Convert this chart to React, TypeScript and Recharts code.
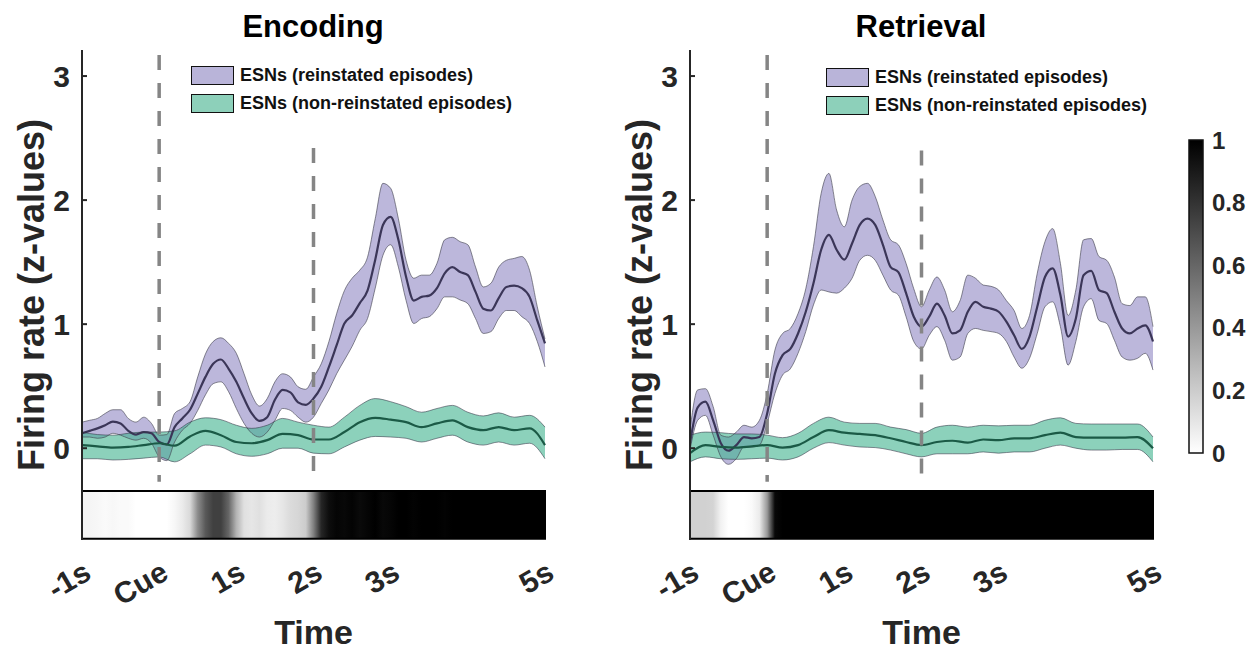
import { ComposedChart, BarChart, Bar, Area, Line, XAxis, YAxis, ReferenceLine, ReferenceArea, Legend, Label } from 'recharts';

const FONT = '"Liberation Sans", Arial, Helvetica, sans-serif';
const INK = '#262626';

// time grid (s relative to cue)
const TIME_FINE = [
  -1, -0.9, -0.8, -0.7, -0.6, -0.5, -0.4, -0.3, -0.2, -0.1,
  0, 0.1, 0.2, 0.3, 0.4, 0.5, 0.6, 0.7, 0.8, 0.9,
  1, 1.1, 1.2, 1.3, 1.4, 1.5, 1.6, 1.7, 1.8, 1.9,
  2, 2.1, 2.2, 2.3, 2.4, 2.5, 2.6, 2.7, 2.8, 2.9,
  3, 3.1, 3.2, 3.3, 3.4, 3.5, 3.6, 3.7, 3.8, 3.9,
  4, 4.1, 4.2, 4.3, 4.4, 4.5, 4.6, 4.7, 4.8, 4.9,
  5,
];
const TIME_COARSE = [
  -1, -0.8, -0.6, -0.4, -0.2, 0, 0.2, 0.4, 0.6, 0.8,
  1, 1.2, 1.4, 1.6, 1.8, 2, 2.2, 2.4, 2.6, 2.8,
  3, 3.2, 3.4, 3.6, 3.8, 4, 4.2, 4.4, 4.6, 4.8,
  5,
];

const X_TICKS = [-1, 0, 1, 2, 3, 5];
const X_TICK_LABELS = ['-1s', 'Cue', '1s', '2s', '3s', '5s'];
const Y_TICKS = [0, 1, 2, 3];
const CBAR_TICKS = [0, 0.2, 0.4, 0.6, 0.8, 1];
const CBAR_DATA = [{ name: 'scale', value: 1 }];
const LEGEND_LABELS = ['ESNs (reinstated episodes)', 'ESNs (non-reinstated episodes)'];
const REIN_COLOR = '#7a6fb8';
const NONREIN_COLOR = '#3fb38e';
const SWATCH_COLORS = ['#b9b4d9', '#8dd0ba'];

// Encoding - reinstated
const ENC_REIN_MEAN = [
  0.12, 0.14, 0.16, 0.185, 0.215, 0.2, 0.14, 0.11, 0.13, 0.12,
  0.05, 0.03, 0.17, 0.24, 0.31, 0.44, 0.575, 0.68, 0.715, 0.64,
  0.535, 0.4, 0.28, 0.22, 0.25, 0.39, 0.47, 0.45, 0.37, 0.35,
  0.4, 0.495, 0.655, 0.83, 1.005, 1.07, 1.17, 1.27, 1.52, 1.8,
  1.865, 1.68, 1.38, 1.19, 1.22, 1.23, 1.29, 1.41, 1.46, 1.42,
  1.395, 1.26, 1.125, 1.11, 1.21, 1.3, 1.31, 1.29, 1.22, 1.03,
  0.845,
];
const ENC_REIN_HI = [
  0.21, 0.225, 0.24, 0.28, 0.31, 0.31, 0.24, 0.21, 0.25, 0.2,
  0.105, 0.11, 0.28, 0.32, 0.375, 0.575, 0.76, 0.86, 0.89, 0.845,
  0.765, 0.6, 0.43, 0.34, 0.4, 0.535, 0.6, 0.575, 0.495, 0.475,
  0.575, 0.68, 0.86, 1.085, 1.27, 1.37, 1.435, 1.54, 1.85, 2.135,
  2.095, 1.85, 1.515, 1.37, 1.395, 1.395, 1.49, 1.68, 1.7, 1.665,
  1.64, 1.46, 1.3, 1.33, 1.46, 1.515, 1.53, 1.545, 1.435, 1.14,
  0.88,
];
const ENC_REIN_LO = [
  0.09, 0.09, 0.08, 0.09, 0.12, 0.105, 0.08, 0.065, 0.08, 0.04,
  -0.07, -0.1, 0.05, 0.145, 0.2, 0.305, 0.43, 0.52, 0.535, 0.455,
  0.32, 0.2, 0.12, 0.09, 0.13, 0.225, 0.32, 0.305, 0.25, 0.21,
  0.25, 0.36, 0.47, 0.6, 0.71, 0.82, 0.95, 1.045, 1.29, 1.555,
  1.64, 1.46, 1.19, 1.005, 1.045, 1.06, 1.125, 1.22, 1.22, 1.195,
  1.165, 1.045, 0.925, 0.94, 1.045, 1.11, 1.11, 1.06, 1.005, 0.86,
  0.655,
];

// Encoding - non-reinstated
const ENC_NON_MEAN = [
  0.025, 0.015, 0.005, 0.01, 0.025, 0.04, 0.02, 0.095, 0.14, 0.105,
  0.05, 0.04, 0.065, 0.115, 0.105, 0.07, 0.07, 0.13, 0.21, 0.245,
  0.23, 0.21, 0.17, 0.2, 0.225, 0.17, 0.145, 0.17, 0.145, 0.16,
  0.025,
];
const ENC_NON_HI = [
  0.13, 0.11, 0.105, 0.12, 0.13, 0.13, 0.14, 0.21, 0.245, 0.23,
  0.185, 0.16, 0.185, 0.24, 0.21, 0.185, 0.17, 0.25, 0.345, 0.4,
  0.375, 0.335, 0.29, 0.32, 0.345, 0.29, 0.26, 0.285, 0.25, 0.265,
  0.17,
];
const ENC_NON_LO = [
  -0.085, -0.085, -0.095, -0.09, -0.08, -0.07, -0.11, -0.045, 0.025, 0.01,
  -0.045, -0.065, -0.045, 0, 0, -0.04, -0.045, 0.01, 0.065, 0.095,
  0.09, 0.08, 0.05, 0.08, 0.105, 0.05, 0.025, 0.05, 0.025, 0.04,
  -0.085,
];

// Retrieval - reinstated
const RET_REIN_MEAN = [
  0.04, 0.33, 0.375, 0.225, 0.04, -0.02, 0.025, 0.09, 0.08, 0.09,
  0.28, 0.6, 0.75, 0.8, 0.925, 1.1, 1.33, 1.6, 1.72, 1.6,
  1.52, 1.65, 1.8, 1.85, 1.8, 1.64, 1.46, 1.42, 1.25, 1.06,
  0.98, 1.06, 1.165, 1.07, 0.925, 0.95, 1.1, 1.18, 1.14, 1.125,
  1.1, 1.02, 0.91, 0.8, 0.9, 1.14, 1.38, 1.45, 1.235, 0.9,
  1.045, 1.395, 1.43, 1.275, 1.25, 1.1, 0.965, 0.925, 0.965, 0.99,
  0.86,
];
const RET_REIN_HI = [
  0.145, 0.47, 0.48, 0.335, 0.105, 0.09, 0.13, 0.185, 0.17, 0.225,
  0.44, 0.79, 0.925, 0.965, 1.085, 1.285, 1.625, 2.055, 2.215, 1.92,
  1.785, 2.0, 2.11, 2.135, 2.03, 1.84, 1.68, 1.64, 1.49, 1.285,
  1.14, 1.275, 1.38, 1.275, 1.1, 1.19, 1.395, 1.37, 1.315, 1.305,
  1.275, 1.19, 1.11, 0.965, 1.07, 1.41, 1.665, 1.77, 1.49, 1.07,
  1.275, 1.68, 1.69, 1.545, 1.515, 1.38, 1.165, 1.15, 1.22, 1.22,
  0.98,
];
const RET_REIN_LO = [
  -0.015, 0.225, 0.265, 0.105, -0.07, -0.13, -0.085, 0.01, 0.01, 0.025,
  0.2, 0.44, 0.59, 0.64, 0.765, 0.94, 1.155, 1.275, 1.26, 1.25,
  1.29, 1.37, 1.515, 1.555, 1.515, 1.395, 1.275, 1.235, 1.06, 0.86,
  0.8, 0.91, 0.98, 0.87, 0.71, 0.735, 0.925, 0.965, 0.95, 0.94,
  0.925, 0.86, 0.735, 0.645, 0.725, 0.925, 1.14, 1.18, 0.98, 0.67,
  0.86, 1.14, 1.205, 1.03, 1.005, 0.87, 0.735, 0.71, 0.725, 0.765,
  0.63,
];

// Retrieval - non-reinstated
const RET_NON_MEAN = [
  -0.04, 0.025, 0.01, 0.005, 0.015, 0.025, 0.005, 0.025, 0.09, 0.145,
  0.125, 0.115, 0.105, 0.08, 0.05, 0.025, 0.05, 0.06, 0.045, 0.07,
  0.065, 0.08, 0.08, 0.105, 0.125, 0.09, 0.085, 0.085, 0.085, 0.09,
  0,
];
const RET_NON_HI = [
  0.105, 0.13, 0.125, 0.115, 0.115, 0.105, 0.085, 0.12, 0.2, 0.25,
  0.21, 0.2, 0.2, 0.17, 0.15, 0.12, 0.17, 0.185, 0.17, 0.185,
  0.18, 0.185, 0.185, 0.225, 0.245, 0.2, 0.195, 0.195, 0.195, 0.195,
  0.09,
];
const RET_NON_LO = [
  -0.11, -0.07, -0.085, -0.09, -0.085, -0.08, -0.095, -0.07, 0, 0.045,
  0.025, 0.01, 0.005, -0.015, -0.045, -0.07, -0.045, -0.045, -0.045, -0.03,
  -0.04, -0.03, -0.03, 0, 0.025, 0, -0.015, -0.015, -0.01, -0.01,
  -0.11,
];

// grayscale strip under each panel (0 = white, 1 = black)
const ENC_STRIP = [
  0.04, 0.04, 0.03, 0.02, 0.03, 0.02, 0.02, 0, 0, 0,
  0, 0, 0.03, 0.08, 0.15, 0.45, 0.65, 0.75, 0.75, 0.6,
  0.3, 0.12, 0.1, 0.12, 0.08, 0.07, 0.1, 0.14, 0.16, 0.2,
  0.5, 0.85, 0.95, 0.98, 0.97, 0.99, 0.96, 0.98, 1, 0.97,
  0.98, 1, 1, 0.99, 1, 1, 1, 0.99, 1, 1,
  1, 1, 1, 1, 1, 1, 1, 1, 1, 1,
  1,
];
const RET_STRIP = [
  0.18, 0.18, 0.18, 0.17, 0.05, 0, 0, 0, 0.02, 0.08,
  0.4, 0.97, 1, 1, 1, 1, 1, 1, 1, 1,
  1, 1, 1, 1, 1, 1, 1, 1, 1, 1,
  1, 1, 1, 1, 1, 1, 1, 1, 1, 1,
  1, 1, 1, 1, 1, 1, 1, 1, 1, 1,
  1, 1, 1, 1, 1, 1, 1, 1, 1, 1,
  1,
];

const Y_DOMAIN: [number, number] = [-0.74, 3.21];
const STRIP_TOP = -0.345;
const STRIP_BOTTOM = -0.73;
const DASH_BOTTOM = -0.27;
const CUE_DASH_TOP = 3.17;

const gray = (v: number) => {
  const c = Math.round(255 * (1 - v));
  return `rgb(${c},${c},${c})`;
};

const TimeTick = ({ x, y, payload }: any) => {
  const ax = x + 11;
  const ay = y + 38;
  return (
    <text
      x={ax}
      y={ay}
      transform={`rotate(-30 ${ax} ${ay})`}
      textAnchor="end"
      fill={INK}
      fontSize={30}
      fontWeight={700}
      fontFamily={FONT}
    >
      {X_TICK_LABELS[X_TICKS.indexOf(payload.value)]}
    </text>
  );
};

const LegendBox = () => (
  <div style={{ fontFamily: FONT }}>
    {LEGEND_LABELS.map((label, i) => (
      <div key={label} style={{ display: 'flex', alignItems: 'center', height: 28 }}>
        <div
          style={{
            width: 43,
            height: 19,
            boxSizing: 'border-box',
            border: '1.5px solid #111',
            background: SWATCH_COLORS[i],
          }}
        />
        <span style={{ marginLeft: 6, fontSize: 18, fontWeight: 700, color: '#111', whiteSpace: 'nowrap' }}>
          {label}
        </span>
      </div>
    ))}
  </div>
);

interface Band {
  mean: number[];
  lo: number[];
  hi: number[];
}

interface PanelProps {
  left: number;
  title: string;
  prefix: string;
  rein: Band;
  nonrein: Band;
  strip: number[];
  secondDashTop: number;
  legendLeft: number;
  legendTop: number;
}

function Panel({ left, title, prefix, rein, nonrein, strip, secondDashTop, legendLeft, legendTop }: PanelProps) {
  const reinData = TIME_FINE.map((t, i) => ({
    t,
    mean: rein.mean[i],
    lo: rein.lo[i],
    hi: rein.hi[i],
    band: [rein.lo[i], rein.hi[i]],
  }));
  const nonData = TIME_COARSE.map((t, i) => ({
    t,
    mean: nonrein.mean[i],
    lo: nonrein.lo[i],
    hi: nonrein.hi[i],
    band: [nonrein.lo[i], nonrein.hi[i]],
  }));

  return (
    <div style={{ position: 'absolute', left, top: 0, width: 600, height: 653 }}>
      <div
        style={{
          position: 'absolute',
          left: 163,
          top: 11,
          width: 300,
          textAlign: 'center',
          fontFamily: FONT,
          fontWeight: 700,
          fontSize: 31,
          lineHeight: '31px',
          color: '#000',
        }}
      >
        {title}
      </div>
      <ComposedChart width={600} height={653} margin={{ top: 50, right: 55, bottom: 53, left: 22 }}>
        <defs>
          {strip.slice(0, -1).map((v, i) => (
            <linearGradient key={i} id={`${prefix}-cell-${i}`} x1="0" y1="0" x2="1" y2="0">
              <stop offset="0" stopColor={gray(v)} />
              <stop offset="1" stopColor={gray(strip[i + 1])} />
            </linearGradient>
          ))}
        </defs>
        <XAxis
          dataKey="t"
          type="number"
          domain={[-1, 5]}
          ticks={X_TICKS}
          axisLine={false}
          tickLine={false}
          tickSize={0}
          tickMargin={0}
          height={60}
          tick={TimeTick}
          interval={0}
        >
          <Label
            content={({ viewBox }: any) => (
              <text
                x={viewBox.x + viewBox.width / 2}
                y={viewBox.y + 104}
                textAnchor="middle"
                fill={INK}
                fontSize={34}
                fontWeight={700}
                fontFamily={FONT}
              >
                Time
              </text>
            )}
          />
        </XAxis>
        <YAxis
          type="number"
          domain={Y_DOMAIN}
          ticks={Y_TICKS}
          width={60}
          allowDataOverflow
          axisLine={{ stroke: INK, strokeWidth: 2 }}
          tickLine={{ stroke: INK, strokeWidth: 2 }}
          tickSize={-5}
          tickMargin={17}
          tick={{ fill: INK, fontSize: 30, fontWeight: 700, fontFamily: FONT }}
        >
          <Label
            content={({ viewBox }: any) => {
              const lx = viewBox.x + 22;
              const ly = viewBox.y + viewBox.height / 2;
              return (
                <text
                  x={lx}
                  y={ly}
                  transform={`rotate(-90 ${lx} ${ly})`}
                  textAnchor="middle"
                  fill={INK}
                  fontSize={36}
                  fontWeight={700}
                  fontFamily={FONT}
                >
                  Firing rate (z-values)
                </text>
              );
            }}
          />
        </YAxis>

        {strip.slice(0, -1).map((_, i) => (
          <ReferenceArea
            key={`cell-${i}`}
            x1={TIME_FINE[i]}
            x2={TIME_FINE[i + 1]}
            y1={STRIP_BOTTOM}
            y2={STRIP_TOP}
            fill={`url(#${prefix}-cell-${i})`}
            fillOpacity={1}
            stroke="none"
            shapeRendering="crispEdges"
          />
        ))}
        <ReferenceArea
          x1={-1}
          x2={5}
          y1={STRIP_BOTTOM}
          y2={STRIP_TOP}
          fill="none"
          stroke="#000"
          strokeWidth={2}
        />

        <Area
          data={reinData}
          dataKey="band"
          type="monotone"
          fill={REIN_COLOR}
          fillOpacity={0.5}
          stroke="none"
          isAnimationActive={false}
          activeDot={false}
        />
        <Line data={reinData} dataKey="hi" type="monotone" stroke="#3a3a48" strokeWidth={0.8} strokeOpacity={0.75} dot={false} activeDot={false} isAnimationActive={false} />
        <Line data={reinData} dataKey="lo" type="monotone" stroke="#3a3a48" strokeWidth={0.8} strokeOpacity={0.75} dot={false} activeDot={false} isAnimationActive={false} />
        <Line data={reinData} dataKey="mean" type="monotone" stroke="#3b3658" strokeWidth={2.2} dot={false} activeDot={false} isAnimationActive={false} />

        <Area
          data={nonData}
          dataKey="band"
          type="monotone"
          fill={NONREIN_COLOR}
          fillOpacity={0.6}
          stroke="none"
          isAnimationActive={false}
          activeDot={false}
        />
        <Line data={nonData} dataKey="hi" type="monotone" stroke="#334" strokeWidth={0.8} strokeOpacity={0.7} dot={false} activeDot={false} isAnimationActive={false} />
        <Line data={nonData} dataKey="lo" type="monotone" stroke="#334" strokeWidth={0.8} strokeOpacity={0.7} dot={false} activeDot={false} isAnimationActive={false} />
        <Line data={nonData} dataKey="mean" type="monotone" stroke="#1b5a46" strokeWidth={2.2} dot={false} activeDot={false} isAnimationActive={false} />

        <ReferenceLine
          segment={[{ x: 0, y: CUE_DASH_TOP }, { x: 0, y: DASH_BOTTOM }]}
          stroke="#858585"
          strokeWidth={3.5}
          strokeDasharray="15 13"
        />
        <ReferenceLine
          segment={[{ x: 2, y: secondDashTop }, { x: 2, y: DASH_BOTTOM }]}
          stroke="#858585"
          strokeWidth={3.5}
          strokeDasharray="15 13"
        />

        <Legend
          layout="horizontal"
          verticalAlign="middle"
          align="center"
          wrapperStyle={{ left: legendLeft, top: legendTop, width: 'auto' }}
          content={() => <LegendBox />}
        />
      </ComposedChart>
    </div>
  );
}

function ColorBar() {
  return (
    <div style={{ position: 'absolute', left: 1150, top: 0, width: 103, height: 653 }}>
      <BarChart
        width={103}
        height={653}
        data={CBAR_DATA}
        barCategoryGap={0}
        margin={{ top: 140, right: 0, bottom: 200, left: 39 }}
      >
        <defs>
          <linearGradient id="cbar-grad" x1="0" y1="0" x2="0" y2="1">
            <stop offset="0" stopColor="#000" />
            <stop offset="1" stopColor="#fff" />
          </linearGradient>
        </defs>
        <XAxis dataKey="name" type="category" hide />
        <YAxis
          orientation="right"
          type="number"
          domain={[0, 1]}
          ticks={CBAR_TICKS}
          width={50}
          axisLine={false}
          tickLine={false}
          tickSize={0}
          tickMargin={9}
          tickFormatter={(v: number) => String(v)}
          tick={{ fill: INK, fontSize: 24, fontWeight: 700, fontFamily: FONT }}
        />
        <Bar
          dataKey="value"
          fill="url(#cbar-grad)"
          stroke="#111"
          strokeWidth={1.5}
          isAnimationActive={false}
        />
      </BarChart>
    </div>
  );
}

export default function App() {
  return (
    <div style={{ position: 'absolute', left: 0, top: 0, width: 1253, height: 653, background: '#fff', overflow: 'hidden' }}>
      <Panel
        left={0}
        title="Encoding"
        prefix="enc"
        rein={{ mean: ENC_REIN_MEAN, lo: ENC_REIN_LO, hi: ENC_REIN_HI }}
        nonrein={{ mean: ENC_NON_MEAN, lo: ENC_NON_LO, hi: ENC_NON_HI }}
        strip={ENC_STRIP}
        secondDashTop={2.42}
        legendLeft={191}
        legendTop={61}
      />
      <Panel
        left={608}
        title="Retrieval"
        prefix="ret"
        rein={{ mean: RET_REIN_MEAN, lo: RET_REIN_LO, hi: RET_REIN_HI }}
        nonrein={{ mean: RET_NON_MEAN, lo: RET_NON_LO, hi: RET_NON_HI }}
        strip={RET_STRIP}
        secondDashTop={2.4}
        legendLeft={218}
        legendTop={63}
      />
      <ColorBar />
    </div>
  );
}
